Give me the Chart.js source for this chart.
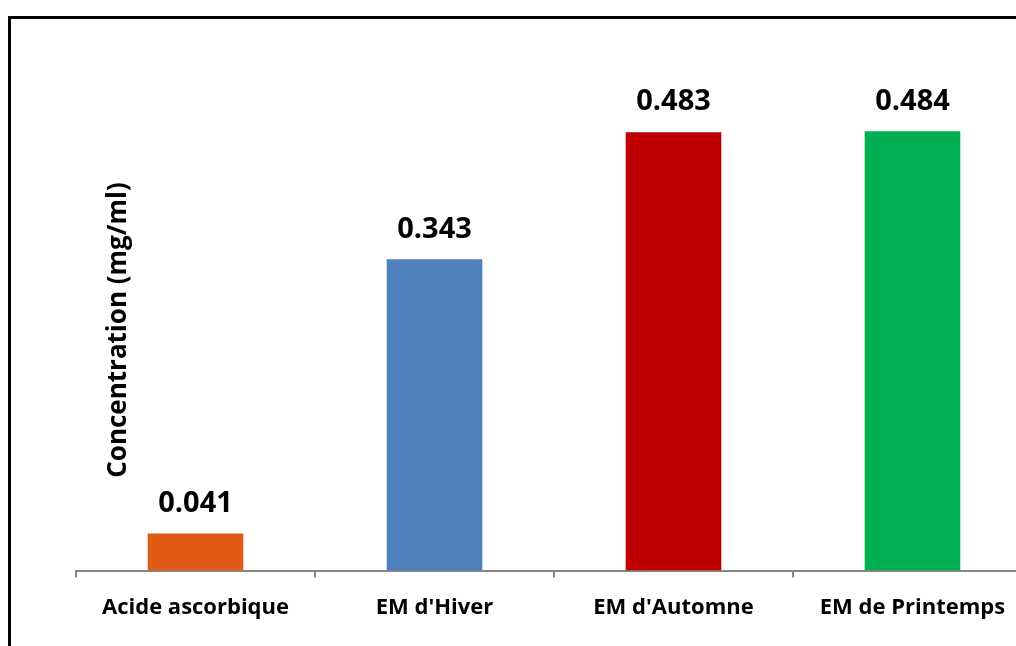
<!DOCTYPE html>
<html>
<head>
<meta charset="utf-8">
<script src="https://cdn.jsdelivr.net/npm/chart.js@4/dist/chart.umd.min.js"></script>
<style>
    html, body { margin: 0; padding: 0; background: #fff; overflow: hidden; }
    #wrap { width: 1016px; height: 646px; overflow: hidden; }
</style>
</head>
<body>
<div id="wrap"><canvas id="myChart" width="1040" height="646"></canvas></div>
<script>
// data
const categories = ['Acide ascorbique', "EM d'Hiver", "EM d'Automne", 'EM de Printemps'];
const concentrations = [0.041, 0.343, 0.483, 0.484];
const barColors = ['#E05B16', '#4F81BD', '#C00000', '#00B050'];
const yTitle = 'Concentration (mg/ml)';

const FONT = "'Open Sans', 'Liberation Sans', sans-serif";

//frame, value labels and y title
const extras = {
    id: 'extras',
    afterDraw(chart) {
        let ctx = chart.ctx;
        let area = chart.chartArea;
        ctx.save();
        // outer frame
        ctx.strokeStyle = '#000';
        ctx.lineWidth = 3;
        ctx.strokeRect(9.5, 17.5, 2000, 2000);
        // value labels
        ctx.fillStyle = '#000';
        ctx.font = 'bold 29px ' + FONT;
        ctx.textAlign = 'center';
        ctx.textBaseline = 'middle';
        chart.getDatasetMeta(0).data.forEach(function (bar, i) {
            ctx.fillText(concentrations[i].toFixed(3), bar.x, bar.y - 30);
        });
        // y title
        ctx.font = 'bold 26px ' + FONT;
        ctx.translate(area.left + 43, 330);
        ctx.rotate(-Math.PI / 2);
        ctx.fillText(yTitle, 0, 0);
        ctx.restore();
    }
};

new Chart(document.getElementById('myChart'), {
    type: 'bar',
    data: {
        labels: categories,
        datasets: [{
            label: 'Concentration',
            data: concentrations,
            backgroundColor: barColors,
            borderWidth: 0,
            barPercentage: 0.4,
            categoryPercentage: 1
        }]
    },
    options: {
        responsive: false,
        animation: false,
        layout: {
            padding: {left: 76, right: 8, top: 26, bottom: 8}
        },
        plugins: {
            legend: {display: false},
            tooltip: {enabled: false}
        },
        scales: {
            x: {
                grid: {
                    display: true,
                    drawOnChartArea: false,
                    drawTicks: true,
                    tickLength: 7,
                    color: '#868686',
                    lineWidth: 2
                },
                border: {display: true, color: '#868686', width: 2},
                ticks: {
                    color: '#000',
                    padding: 17,
                    font: {family: FONT, size: 22, weight: 'bold'}
                }
            },
            y: {
                display: false,
                min: 0,
                max: 0.6
            }
        }
    },
    plugins: [extras]
});
</script>
</body>
</html>
